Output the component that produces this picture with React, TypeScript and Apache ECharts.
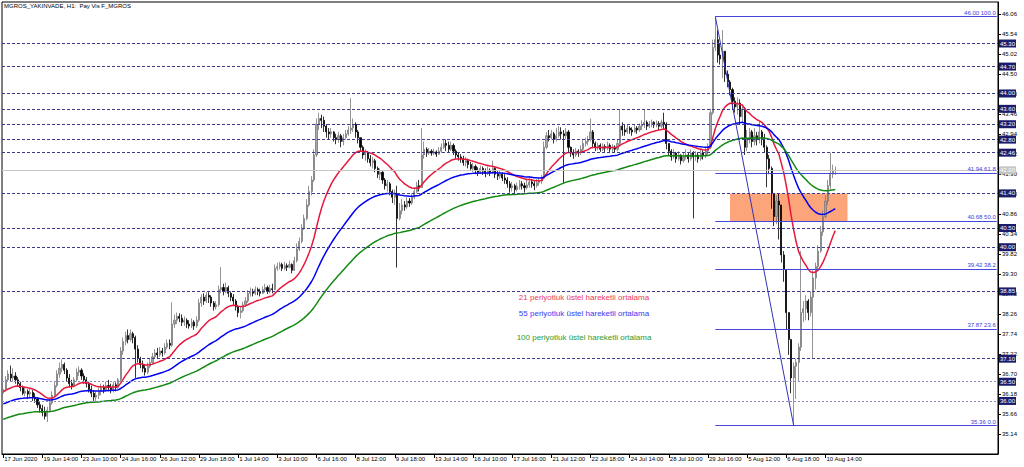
import React, { useEffect, useRef } from 'react';
import * as echarts from 'echarts';

// ---- x axis (hourly bars, one label every 16 bars) ----
const xTickLabels = [
  '17 Jun 2020', '19 Jun 14:00', '23 Jun 10:00', '24 Jun 16:00', '26 Jun 12:00', '29 Jun 18:00',
  '1 Jul 14:00', '3 Jul 10:00', '6 Jul 16:00', '8 Jul 12:00', '9 Jul 18:00', '13 Jul 14:00',
  '16 Jul 10:00', '17 Jul 16:00', '21 Jul 12:00', '22 Jul 18:00', '24 Jul 14:00', '28 Jul 10:00',
  '29 Jul 16:00', '5 Aug 12:00', '6 Aug 18:00', '10 Aug 14:00',
];
const LABEL_STEP = 16;
const TOTAL_SLOTS = 407; // bars + empty chart shift on the right

// ---- price bars ----
const firstOpen = 36.2;
const closes = [
  36.30, 36.55, 36.70, 36.60, 36.65, 36.55, 36.45, 36.35, 36.20, 36.25,
  36.18, 36.22, 36.10, 36.05, 35.90, 35.80, 35.70, 35.60, 35.75, 35.95,
  36.15, 36.40, 36.70, 36.85, 36.95, 36.80, 36.60, 36.45, 36.40, 36.55,
  36.75, 36.80, 36.65, 36.55, 36.45, 36.30, 36.20, 36.10, 36.15, 36.25,
  36.35, 36.30, 36.40, 36.35, 36.30, 36.42, 36.35, 36.55, 37.30, 37.55,
  37.70, 37.60, 37.75, 37.65, 37.35, 37.10, 36.95, 36.85, 36.75, 36.90,
  37.00, 37.15, 37.25, 37.20, 37.30, 37.25, 37.40, 37.50, 37.45, 38.00,
  38.10, 38.20, 38.15, 38.05, 38.10, 38.00, 37.95, 38.05, 37.95, 38.10,
  38.55, 38.70, 38.60, 38.75, 38.70, 38.55, 38.45, 38.50, 38.90, 38.95,
  38.85, 38.95, 38.80, 38.70, 38.60, 38.45, 38.30, 38.35, 38.50, 38.60,
  38.80, 38.85, 38.80, 38.90, 38.85, 38.80, 38.90, 38.95, 38.85, 38.92,
  38.90, 39.45, 39.50, 39.55, 39.45, 39.52, 39.48, 39.55, 39.40, 39.65,
  39.95, 40.15, 40.50, 40.75, 41.10, 41.45, 41.75, 42.40, 43.20, 43.35,
  43.30, 43.15, 43.00, 42.95, 43.00, 42.85, 42.80, 42.90, 42.75, 42.85,
  42.95, 43.05, 43.10, 43.20, 43.00, 42.85, 42.60, 42.40, 42.45, 42.30,
  42.20, 42.25, 42.05, 41.90, 41.95, 41.75, 41.60, 41.65, 41.45, 41.30,
  41.40, 40.75, 40.95, 41.10, 41.05, 41.20, 41.15, 41.30, 41.45, 41.60,
  41.55, 42.40, 42.55, 42.45, 42.50, 42.45, 42.48, 42.42, 42.50, 42.60,
  42.70, 42.65, 42.55, 42.65, 42.50, 42.40, 42.35, 42.30, 42.20, 42.25,
  42.15, 42.05, 42.10, 42.00, 41.95, 42.05, 41.98, 41.92, 42.00, 41.95,
  42.05, 41.90, 41.85, 41.90, 41.80, 41.75, 41.65, 41.55, 41.60, 41.50,
  41.58, 41.65, 41.60, 41.55, 41.62, 41.70, 41.65, 41.60, 41.68, 41.72,
  41.80, 42.60, 42.90, 42.85, 42.95, 42.80, 42.90, 43.00, 42.95, 42.90,
  43.00, 42.60, 42.45, 42.40, 42.50, 42.45, 42.55, 42.70, 42.75, 42.80,
  43.00, 42.70, 42.60, 42.65, 42.55, 42.62, 42.58, 42.65, 42.55, 42.60,
  42.55, 42.70, 43.15, 43.05, 43.00, 43.10, 43.05, 43.00, 43.10, 43.05,
  43.15, 43.20, 43.25, 43.15, 43.20, 43.25, 43.18, 43.22, 43.15, 43.25,
  43.20, 42.70, 42.50, 42.35, 42.45, 42.30, 42.40, 42.25, 42.35, 42.40,
  42.30, 42.45, 42.35, 42.40, 42.30, 42.45, 42.38, 42.50, 42.60, 43.50,
  45.20, 45.40, 45.00, 44.90, 45.10, 44.50, 44.30, 44.10, 43.80, 43.65,
  43.75, 43.40, 43.60, 42.60, 42.80, 43.00, 42.75, 42.90, 42.80, 43.00,
  42.85, 42.60, 42.30, 42.05, 41.40, 40.80, 41.20, 41.10, 39.80, 39.42,
  38.30, 37.60, 36.60, 36.90, 37.00, 37.40, 38.30, 38.40, 38.60, 38.30,
  38.70, 39.20, 39.50, 39.90, 40.40, 40.80, 41.20, 41.60, 41.90, 42.00, 42.00,
];
const highs = [
  36.45, 36.65, 36.80, 36.92, 36.85, 36.75, 36.62, 36.50, 36.40, 36.35,
  36.30, 36.32, 36.28, 36.20, 36.10, 35.98, 35.90, 35.85, 35.85, 36.05,
  36.25, 36.50, 36.80, 37.00, 37.08, 37.00, 36.85, 36.70, 36.55, 36.62,
  36.85, 36.90, 36.85, 36.72, 36.62, 36.50, 36.40, 36.28, 36.25, 36.35,
  36.45, 36.42, 36.50, 36.55, 36.45, 36.50, 36.48, 36.60, 37.40, 37.65,
  37.80, 37.86, 37.86, 37.80, 37.70, 37.45, 37.15, 37.05, 36.95, 37.00,
  37.10, 37.25, 37.35, 37.38, 37.40, 37.38, 37.50, 37.60, 37.60, 38.57,
  38.25, 38.30, 38.28, 38.25, 38.20, 38.15, 38.10, 38.15, 38.10, 38.20,
  38.65, 38.78, 38.80, 38.83, 38.83, 38.75, 38.60, 38.60, 39.00, 39.48,
  39.05, 39.08, 39.00, 38.85, 38.78, 38.65, 38.50, 38.45, 38.58, 38.70,
  38.88, 38.95, 38.92, 38.98, 38.95, 38.92, 38.98, 39.05, 39.00, 39.02,
  39.05, 39.55, 39.60, 39.62, 39.60, 39.62, 39.58, 39.65, 39.58, 39.75,
  40.10, 40.25, 40.60, 40.85, 41.25, 41.60, 41.85, 42.55, 43.35, 43.50,
  43.45, 43.40, 43.20, 43.10, 43.10, 43.02, 42.95, 43.00, 42.95, 42.95,
  43.05, 43.15, 43.88, 43.35, 43.25, 43.05, 42.80, 42.65, 42.55, 42.50,
  42.40, 42.35, 42.30, 42.10, 42.05, 41.98, 41.80, 41.75, 41.70, 41.50,
  41.50, 41.60, 41.15, 41.25, 41.20, 41.30, 41.28, 41.40, 41.55, 41.70,
  41.75, 43.10, 42.75, 42.60, 42.58, 42.55, 42.56, 42.52, 42.60, 42.70,
  42.80, 42.80, 42.75, 42.75, 42.70, 42.55, 42.48, 42.42, 42.38, 42.35,
  42.30, 42.22, 42.20, 42.15, 42.08, 42.12, 42.10, 42.05, 42.10, 42.05,
  42.25, 42.08, 41.98, 41.98, 41.95, 41.90, 41.82, 41.72, 41.70, 41.65,
  41.68, 41.75, 41.72, 41.68, 41.75, 41.85, 41.78, 41.72, 41.78, 41.82,
  41.88, 42.75, 43.00, 43.05, 43.05, 43.00, 43.10, 43.15, 43.12, 43.05,
  43.10, 43.05, 42.62, 42.55, 42.58, 42.55, 42.65, 42.80, 42.85, 42.90,
  43.35, 43.05, 42.75, 42.72, 42.70, 42.70, 42.68, 42.75, 42.70, 42.68,
  42.65, 42.80, 43.57, 43.25, 43.18, 43.20, 43.15, 43.12, 43.20, 43.15,
  43.22, 43.30, 43.57, 43.30, 43.28, 43.32, 43.28, 43.30, 43.28, 43.32,
  43.50, 43.25, 42.70, 42.55, 42.55, 42.48, 42.50, 42.42, 42.45, 42.55,
  42.45, 42.55, 42.50, 42.50, 42.45, 42.55, 42.52, 42.60, 42.70, 43.60,
  45.40, 46.00, 45.65, 45.30, 45.65, 45.00, 44.60, 44.35, 44.15, 43.90,
  43.90, 43.85, 43.70, 43.65, 43.05, 43.10, 43.05, 43.10, 43.00, 43.27,
  43.05, 42.95, 42.65, 42.40, 42.10, 41.40, 41.35, 41.40, 41.10, 39.90,
  39.42, 38.30, 37.60, 37.00, 37.10, 37.50, 39.90, 38.60, 38.75, 38.65,
  38.85, 39.40, 39.60, 40.05, 40.55, 40.95, 41.35, 41.75, 42.46, 42.15, 42.10,
];
const lows = [
  36.15, 36.25, 36.50, 36.50, 36.50, 36.45, 36.38, 36.25, 36.15, 36.12,
  36.05, 36.10, 36.00, 35.95, 35.82, 35.70, 35.60, 35.52, 35.45, 35.70,
  35.90, 36.10, 36.35, 36.60, 36.75, 36.70, 36.50, 36.35, 36.30, 36.35,
  36.50, 36.65, 36.55, 36.45, 36.35, 36.22, 36.10, 36.00, 35.98, 36.05,
  36.15, 36.20, 36.25, 36.25, 36.20, 36.22, 36.25, 36.30, 36.50, 37.20,
  37.45, 37.50, 37.55, 37.50, 36.60, 37.00, 36.85, 36.75, 36.66, 36.70,
  36.85, 36.95, 37.10, 37.10, 37.15, 37.15, 37.20, 37.35, 37.35, 37.40,
  37.90, 38.00, 38.05, 37.95, 37.95, 37.90, 37.88, 37.90, 37.85, 37.90,
  38.05, 38.45, 38.50, 38.55, 38.55, 38.45, 38.35, 38.38, 38.45, 38.80,
  38.75, 38.80, 38.70, 38.60, 38.50, 38.35, 38.18, 38.15, 38.30, 38.45,
  38.55, 38.72, 38.72, 38.75, 38.75, 38.72, 38.78, 38.82, 38.78, 38.80,
  38.80, 38.88, 39.38, 39.42, 39.38, 39.40, 39.38, 39.45, 39.32, 39.38,
  39.60, 39.90, 40.10, 40.45, 40.70, 41.05, 41.35, 41.70, 42.35, 43.05,
  43.10, 43.00, 42.85, 42.80, 42.85, 42.75, 42.68, 42.72, 42.60, 42.65,
  42.80, 42.90, 42.95, 43.00, 42.85, 42.70, 42.50, 42.30, 42.25, 42.20,
  42.10, 42.05, 41.95, 41.80, 41.75, 41.65, 41.50, 41.45, 41.35, 41.15,
  41.10, 39.47, 40.70, 40.85, 40.95, 41.00, 41.05, 41.10, 41.25, 41.40,
  41.45, 41.55, 42.30, 42.35, 42.40, 42.38, 42.40, 42.35, 42.40, 42.45,
  42.55, 42.50, 42.45, 42.50, 42.40, 42.30, 42.25, 42.20, 42.12, 42.10,
  42.05, 41.98, 41.95, 41.90, 41.85, 41.90, 41.88, 41.82, 41.88, 41.85,
  41.90, 41.80, 41.75, 41.78, 41.72, 41.65, 41.55, 41.42, 41.45, 41.40,
  41.45, 41.50, 41.50, 41.42, 41.50, 41.55, 41.55, 41.48, 41.55, 41.60,
  41.65, 41.80, 42.55, 42.75, 42.80, 42.70, 42.75, 42.85, 42.80, 41.66,
  42.80, 42.45, 42.35, 42.30, 42.35, 42.35, 42.40, 42.50, 42.62, 42.65,
  42.75, 42.60, 42.50, 42.52, 42.48, 42.50, 42.48, 42.52, 42.45, 42.48,
  42.45, 42.50, 42.65, 42.90, 42.90, 42.95, 42.95, 42.90, 42.98, 42.95,
  43.00, 43.05, 43.10, 43.05, 43.10, 43.12, 43.10, 43.12, 43.05, 43.10,
  43.08, 42.55, 42.40, 42.25, 42.30, 42.20, 42.25, 42.15, 42.20, 42.28,
  42.20, 42.25, 40.75, 42.25, 42.20, 42.25, 42.28, 42.32, 42.40, 42.55,
  43.45, 45.10, 44.80, 44.75, 44.40, 44.30, 44.16, 43.95, 43.60, 43.50,
  43.45, 43.20, 43.25, 42.40, 42.50, 42.70, 42.60, 42.65, 42.65, 42.70,
  42.65, 42.45, 41.56, 41.90, 41.00, 40.55, 40.60, 40.20, 39.60, 39.10,
  37.85, 37.20, 36.20, 35.36, 36.05, 36.50, 37.30, 38.05, 38.10, 38.10,
  38.20, 37.10, 38.90, 39.40, 39.85, 40.30, 40.75, 41.10, 41.50, 41.80, 41.88,
];

// ---- moving averages (exponential), seeded with the values at the left edge ----
const emaPeriods = [21, 55, 100];
const emaSeeds = [36.24, 35.91, 35.51];
const emaColors = ['#e8183c', '#0000f0', '#128a12'];
const emaTexts = [
  '21 periyotluk üstel hareketli ortalama',
  '55 periyotluk üstel hareketli ortalama',
  '100 periyotluk üstel hareketli ortalama',
];
const emaTextColors = ['#ec3a5c', '#3a3af0', '#2e9a2e'];

// ---- drawn objects ----
const hLevels = [45.3, 44.7, 44.0, 43.6, 43.2, 42.8, 42.46, 41.4, 40.5, 40.0, 38.85, 37.1, 36.5, 36.0];
const lightLevels = [36.5, 36.0];
const bidPrice = 42.0;
const fibHigh = 46.0;
const fibLow = 35.36;
const fibHighBar = 291;
const fibLowBar = 323;
const fibLevels = [100, 61.8, 50, 38.2, 23.6, 0];
const zoneFromBar = 297;
const zoneToBar = 345;
const zoneTop = 41.4;
const zoneBottom = 40.68;

const Y_MIN = 34.62;
const Y_MAX = 46.38;
const Y_STEP = 0.52;

const FONT = '"Liberation Sans", Arial, sans-serif';

function computeEma(period: number, seed: number): number[] {
  const k = 2 / (period + 1);
  let e = seed;
  return closes.map((c) => {
    e = e + k * (c - e);
    return Math.round(e * 10000) / 10000;
  });
}

export default function App() {
  const ref = useRef<HTMLDivElement>(null);

  useEffect(() => {
    document.body.style.margin = '0';
    if (!ref.current) return;
    const chart = echarts.init(ref.current, null, { renderer: 'svg' });

    const cats = Array.from({ length: TOTAL_SLOTS }, (_, i) => String(i));
    const ohlc = closes.map((c, i) => {
      const o = i === 0 ? firstOpen : closes[i - 1];
      const h = Math.max(highs[i], o, c);
      const l = Math.min(lows[i], o, c);
      return [o, c, l, h];
    });

    const showTick = (index: number) => index % LABEL_STEP === 0 && index / LABEL_STEP < xTickLabels.length;

    const boxLabel = (text: string, bg: string) => ({
      show: true,
      position: 'end',
      distance: 1,
      formatter: text,
      color: '#ffffff',
      backgroundColor: bg,
      fontSize: 6,
      fontFamily: FONT,
      lineHeight: 7,
      padding: [1, 1, 0, 1],
    });

    const markLines: any[] = [];
    hLevels.forEach((v) => {
      const light = lightLevels.includes(v);
      markLines.push({
        yAxis: v,
        lineStyle: { color: light ? '#8a8ac4' : '#3c3c8c', type: light ? [2, 2] : [3, 2], width: 1 },
        label: boxLabel(v.toFixed(2), '#1c1c6c'),
      });
    });
    markLines.push({
      yAxis: bidPrice,
      lineStyle: { color: '#c8c8c8', type: 'solid', width: 1 },
      label: boxLabel(bidPrice.toFixed(2), '#c4c4c4'),
    });
    fibLevels.forEach((lv) => {
      const p = fibLow + ((fibHigh - fibLow) * lv) / 100;
      markLines.push([
        {
          coord: [String(fibHighBar), p],
          lineStyle: { color: '#4646dc', type: 'solid', width: 1 },
          label: {
            show: true,
            position: 'insideEndTop',
            distance: 1,
            formatter: `${p.toFixed(2)} ${lv.toFixed(1)}`,
            color: '#3c3cdc',
            fontSize: 6,
            fontFamily: FONT,
          },
        },
        { coord: [String(TOTAL_SLOTS - 1), p] },
      ]);
    });
    markLines.push([
      {
        coord: [String(fibHighBar), fibHigh],
        lineStyle: { color: '#3434b4', type: 'solid', width: 1 },
        label: { show: false },
      },
      { coord: [String(fibLowBar), fibLow] },
    ]);

    const emaSeries = emaPeriods.map((p, i) => ({
      type: 'line',
      name: `EMA${p}`,
      data: computeEma(p, emaSeeds[i]),
      showSymbol: false,
      symbol: 'none',
      smooth: false,
      lineStyle: { color: emaColors[i], width: 1.5 },
      z: 3,
      silent: true,
    }));

    const option: any = {
      animation: false,
      backgroundColor: '#ffffff',
      textStyle: { fontFamily: FONT },
      grid: {
        left: 2, right: 26, top: 2, bottom: 13,
        show: true, borderColor: '#000', borderWidth: 1, backgroundColor: 'transparent',
        containLabel: false,
      },
      xAxis: {
        type: 'category',
        data: cats,
        boundaryGap: true,
        axisLine: { show: true, lineStyle: { color: '#000', width: 1 } },
        axisTick: { show: true, alignWithLabel: true, interval: showTick, length: 4, lineStyle: { color: '#000' } },
        axisLabel: {
          interval: showTick,
          formatter: (_v: string, idx: number) => xTickLabels[idx / LABEL_STEP] ?? '',
          align: 'left',
          fontSize: 6,
          margin: 2,
          color: '#000',
          fontFamily: FONT,
          padding: [0, 0, 0, 1],
        },
        splitLine: { show: false },
      },
      yAxis: {
        type: 'value',
        position: 'right',
        min: Y_MIN,
        max: Y_MAX,
        interval: Y_STEP,
        axisLine: { show: true, lineStyle: { color: '#000', width: 1 } },
        axisTick: { show: true, length: 3, lineStyle: { color: '#000' } },
        axisLabel: {
          formatter: (v: number) => v.toFixed(2),
          fontSize: 6,
          margin: 4,
          color: '#000',
          fontFamily: FONT,
          showMinLabel: false,
          showMaxLabel: false,
        },
        splitLine: { show: false },
      },
      series: [
        {
          type: 'candlestick',
          name: 'MGROS',
          data: ohlc,
          barWidth: 1.6,
          silent: true,
          itemStyle: {
            color: '#a6a6a6',
            color0: '#000000',
            borderColor: '#7a7a7a',
            borderColor0: '#000000',
            borderWidth: 0.8,
          },
          markArea: {
            silent: true,
            itemStyle: { color: '#fca47a', opacity: 1 },
            data: [[{ coord: [String(zoneFromBar), zoneTop] }, { coord: [String(zoneToBar), zoneBottom] }]],
          },
          markLine: {
            silent: true,
            symbol: ['none', 'none'],
            animation: false,
            data: markLines,
          },
        },
        ...emaSeries,
      ],
      graphic: [
        {
          type: 'text',
          x: 4,
          y: 6,
          silent: true,
          style: { text: 'MGROS_YAKINVADE, H1:  Pay Vis F_MGROS', fill: '#000', fontSize: 6, fontFamily: FONT, verticalAlign: 'middle' },
        },
        ...emaTexts.map((t, i) => ({
          type: 'text',
          x: 584,
          y: [297, 313, 337][i],
          silent: true,
          style: { text: t, fill: emaTextColors[i], fontSize: 8, fontFamily: FONT, align: 'center', verticalAlign: 'middle' },
        })),
      ],
    };

    chart.setOption(option);
    return () => chart.dispose();
  }, []);

  return <div ref={ref} style={{ width: 1024, height: 467 }} />;
}
